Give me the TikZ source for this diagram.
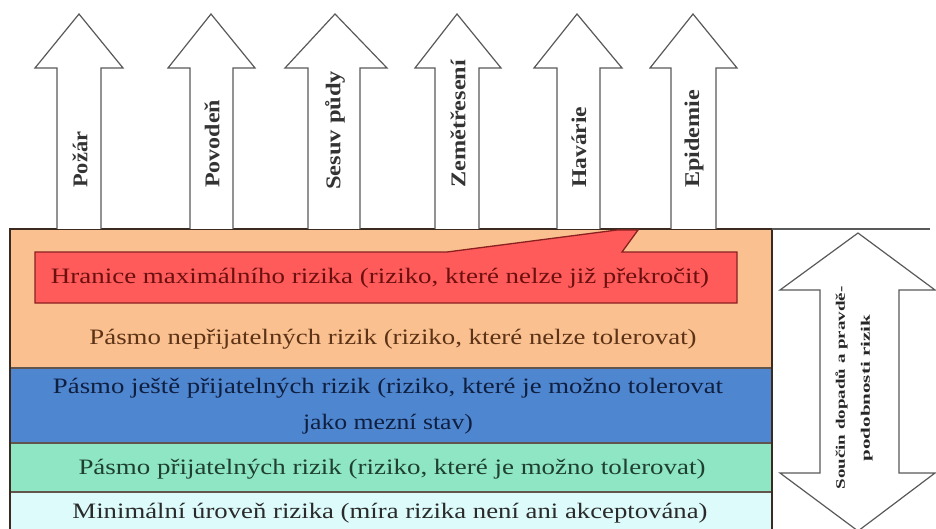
\documentclass[tikz,border=0pt]{standalone}
\usepackage{fontspec}
\setmainfont{Liberation Serif}
\usepackage{graphicx}
\definecolor{orangeband}{HTML}{FAC08F}
\definecolor{blueband}{HTML}{4F86D0}
\definecolor{greenband}{HTML}{8EE6C4}
\definecolor{cyanband}{HTML}{DDFBFB}
\definecolor{redbox}{HTML}{FF5B5B}
\definecolor{redline}{HTML}{8B2020}
\definecolor{redtext}{HTML}{6B0F0F}
\definecolor{orangetext}{HTML}{5C3317}
\definecolor{bluetext}{HTML}{0F1F40}
\definecolor{greentext}{HTML}{1F3F2F}
\definecolor{cyantext}{HTML}{2A2A2A}
\definecolor{arrowline}{HTML}{595959}
\definecolor{boxline}{HTML}{3A2A20}
\begin{document}
\begin{tikzpicture}[x=1pt,y=-1pt,
  arrowshape/.style={fill=white,draw=arrowline,line width=1.2pt,line join=miter},
  arrlabel/.style={rotate=90,anchor=west,inner sep=0pt,text=black!80,font=\fontsize{21}{24}\selectfont\bfseries},
  bandtext/.style={inner sep=0pt,align=center,font=\fontsize{22}{36}\selectfont},
  sepline/.style={draw=boxline!80,line width=1.2pt}]
\useasboundingbox (0,0) rectangle (936,529);
\clip (0,0) rectangle (936,529);
% bands
\fill[orangeband] (10,229) rectangle (772,368);
\fill[blueband] (10,368) rectangle (772,443);
\fill[greenband] (10,443) rectangle (772,492);
\fill[cyanband] (10,492) rectangle (772,540);
\draw[sepline] (10,368) -- (772,368);
\draw[sepline] (10,443) -- (772,443);
\draw[sepline] (10,492) -- (772,492);
\draw[boxline,line width=1.3pt] (10,540) -- (10,229) -- (772,229) -- (772,540);
\draw[arrowline,line width=1.2pt] (772,229) -- (930,229);
\draw[boxline,line width=2pt] (10,229) -- (772,229);
% up arrows
\draw[arrowshape] (57,229) -- (57,68) -- (35,68) -- (79,14) -- (123,68) -- (101,68) -- (101,229);
\draw[arrowshape] (190,229) -- (190,68) -- (168,68) -- (211,14) -- (255,68) -- (233,68) -- (233,229);
\draw[arrowshape] (308,229) -- (308,68) -- (285,68) -- (335,14) -- (387,68) -- (360,68) -- (360,229);
\draw[arrowshape] (435,229) -- (435,68) -- (415,68) -- (457,14) -- (501,68) -- (479,68) -- (479,229);
\draw[arrowshape] (557,229) -- (557,68) -- (534,68) -- (577,14) -- (622,68) -- (600,68) -- (600,229);
\draw[arrowshape] (671,229) -- (671,68) -- (650,68) -- (693,14) -- (737,68) -- (716,68) -- (716,229);
\node[arrlabel] (l1) at (80,188) {\resizebox{56pt}{\height}{Požár}};
\node[arrlabel] (l2) at (212,188) {\resizebox{88pt}{\height}{Povodeň}};
\node[arrlabel] (l3) at (335,190) {\resizebox{119pt}{\height}{Sesuv půdy}};
\node[arrlabel] (l4) at (458,188) {\resizebox{128pt}{\height}{Zemětřesení}};
\node[arrlabel] (l5) at (579,188) {\resizebox{81pt}{\height}{Havárie}};
\node[arrlabel] (l6) at (694,188) {\resizebox{98pt}{\height}{Epidemie}};
% red callout
\draw[fill=redbox,draw=redline,line width=1.3pt,line join=miter]
  (35,252) -- (447,252) -- (617,230) -- (638,230) -- (622,252) -- (737,252) -- (737,303) -- (35,303) -- cycle;
% band texts
\node[bandtext,text=redtext] (t1) at (380,278) {\resizebox{658pt}{\height}{Hranice maximálního rizika (riziko, které nelze již překročit)}};
\node[bandtext,text=orangetext] (t2) at (393,339) {\resizebox{607pt}{\height}{Pásmo nepřijatelných rizik (riziko, které nelze tolerovat)}};
\node[bandtext,text=bluetext] (t3) at (388,406) {\resizebox{670pt}{\height}{Pásmo ještě přijatelných rizik (riziko, které je možno tolerovat}\\\resizebox{170pt}{\height}{jako mezní stav)}};
\node[bandtext,text=greentext] (t4) at (392,469) {\resizebox{627pt}{\height}{Pásmo přijatelných rizik (riziko, které je možno tolerovat)}};
\node[bandtext,text=cyantext] (t5) at (390,513) {\resizebox{635pt}{\height}{Minimální úroveň rizika (míra rizika není ani akceptována)}};
% right double arrow
\draw[arrowshape] (858,233) -- (935,290) -- (899,290) -- (899,473) -- (935,473) -- (858,531) -- (780,473) -- (820,473) -- (820,290) -- (780,290) -- cycle;
\node[rotate=90,align=center,inner sep=0pt,text=black!85,font=\fontsize{13}{25}\selectfont\bfseries] (prod) at (854,388)
  {\resizebox{203pt}{\height}{Součin dopadů a pravdě-}\\\resizebox{147pt}{\height}{podobnosti rizik}};
\end{tikzpicture}
\end{document}
